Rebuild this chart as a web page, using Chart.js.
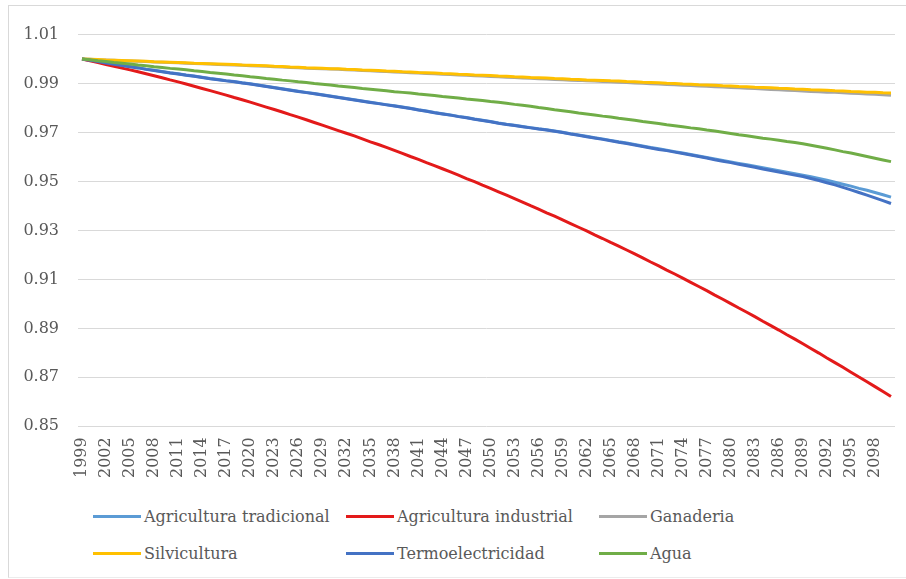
<!DOCTYPE html>
<html>
<head>
<meta charset="utf-8">
<script src="https://cdn.jsdelivr.net/npm/chart.js@4.4.1/dist/chart.umd.min.js"></script>
<style>
  body { margin: 0; background: #fff; width: 906px; height: 579px; overflow: hidden;
         font-family: "DejaVu Serif", serif; }
  #frame { position: absolute; left: 8px; top: 5px; width: 898px; height: 573px; box-sizing: border-box;
           border-top: 1px solid #d9d9d9; border-left: 1px solid #d9d9d9; border-bottom: 1px solid #ececec; }
  #plot { position: absolute; left: 0; top: 0; width: 897px; height: 483px; }
  #legend { position: absolute; left: 84px; top: 492px; display: grid; grid-template-columns: 253px 253px 253px; }
  .item { display: flex; align-items: center; height: 37px; font-size: 16px; color: #595959; white-space: nowrap; }
  .swatch { width: 48px; height: 3px; margin-right: 3px; }
</style>
</head>
<body>
<div id="frame">
  <div id="plot"><canvas id="lineChart"></canvas></div>
  <div id="legend"></div>
</div>
<script>
// años 1999..2100
const years = Array.from({ length: 102 }, (_, i) => String(1999 + i));

const seriesNames = ['Agricultura tradicional', 'Agricultura industrial', 'Ganaderia',
                     'Silvicultura', 'Termoelectricidad', 'Agua'];
const seriesColors = ['#5b9bd5', '#e31a1a', '#a5a5a5', '#ffc000', '#4472c4', '#70ad47'];

const agriTradicional = [
  1.0000,0.9995,0.9990,0.9985,0.9980,0.9975,0.9970,0.9965,0.9959,0.9954,
  0.9949,0.9944,0.9940,0.9935,0.9931,0.9926,0.9921,0.9917,0.9912,0.9908,
  0.9903,0.9899,0.9894,0.9889,0.9884,0.9879,0.9874,0.9869,0.9864,0.9859,
  0.9854,0.9849,0.9844,0.9839,0.9834,0.9829,0.9824,0.9819,0.9814,0.9809,
  0.9804,0.9799,0.9793,0.9788,0.9782,0.9777,0.9772,0.9766,0.9761,0.9755,
  0.9750,0.9745,0.9739,0.9734,0.9730,0.9725,0.9720,0.9715,0.9711,0.9706,
  0.9701,0.9695,0.9690,0.9685,0.9679,0.9674,0.9668,0.9662,0.9657,0.9651,
  0.9645,0.9639,0.9634,0.9628,0.9622,0.9616,0.9610,0.9604,0.9598,0.9592,
  0.9586,0.9580,0.9574,0.9568,0.9562,0.9556,0.9550,0.9544,0.9538,0.9532,
  0.9526,0.9519,0.9512,0.9505,0.9497,0.9489,0.9481,0.9472,0.9464,0.9455,
  0.9446,0.9436];

const agriIndustrial = [
  1.0000,0.9993,0.9986,0.9978,0.9971,0.9963,0.9956,0.9948,0.9940,0.9932,
  0.9924,0.9915,0.9907,0.9898,0.9889,0.9880,0.9871,0.9862,0.9853,0.9843,
  0.9834,0.9824,0.9814,0.9804,0.9794,0.9784,0.9773,0.9763,0.9752,0.9741,
  0.9730,0.9719,0.9708,0.9697,0.9686,0.9674,0.9662,0.9651,0.9639,0.9627,
  0.9615,0.9602,0.9590,0.9577,0.9565,0.9552,0.9539,0.9526,0.9512,0.9499,
  0.9485,0.9472,0.9458,0.9444,0.9430,0.9416,0.9401,0.9387,0.9372,0.9358,
  0.9343,0.9328,0.9313,0.9298,0.9282,0.9267,0.9251,0.9236,0.9220,0.9204,
  0.9188,0.9171,0.9155,0.9138,0.9122,0.9105,0.9088,0.9071,0.9054,0.9036,
  0.9019,0.9001,0.8983,0.8966,0.8948,0.8929,0.8911,0.8893,0.8874,0.8856,
  0.8837,0.8818,0.8799,0.8779,0.8760,0.8741,0.8721,0.8701,0.8682,0.8662,
  0.8642,0.8622];

const ganaderia = [
  1.0000,0.9999,0.9997,0.9996,0.9995,0.9993,0.9992,0.9991,0.9990,0.9988,
  0.9987,0.9986,0.9985,0.9983,0.9982,0.9981,0.9980,0.9978,0.9977,0.9976,
  0.9975,0.9973,0.9972,0.9971,0.9969,0.9968,0.9966,0.9965,0.9963,0.9962,
  0.9960,0.9959,0.9958,0.9956,0.9955,0.9953,0.9952,0.9950,0.9949,0.9947,
  0.9946,0.9944,0.9943,0.9941,0.9940,0.9938,0.9937,0.9935,0.9934,0.9932,
  0.9931,0.9929,0.9928,0.9926,0.9925,0.9923,0.9922,0.9920,0.9919,0.9917,
  0.9916,0.9914,0.9913,0.9911,0.9910,0.9908,0.9907,0.9905,0.9904,0.9902,
  0.9901,0.9899,0.9898,0.9896,0.9895,0.9893,0.9892,0.9890,0.9889,0.9887,
  0.9886,0.9884,0.9883,0.9881,0.9880,0.9878,0.9876,0.9875,0.9873,0.9872,
  0.9870,0.9868,0.9867,0.9865,0.9864,0.9862,0.9860,0.9859,0.9857,0.9856,
  0.9854,0.9852];

const silvicultura = [
  1.0000,0.9999,0.9998,0.9996,0.9995,0.9994,0.9993,0.9992,0.9991,0.9989,
  0.9988,0.9987,0.9986,0.9985,0.9983,0.9982,0.9981,0.9980,0.9979,0.9978,
  0.9976,0.9975,0.9974,0.9973,0.9971,0.9970,0.9968,0.9967,0.9965,0.9964,
  0.9963,0.9961,0.9960,0.9958,0.9957,0.9955,0.9954,0.9953,0.9951,0.9950,
  0.9948,0.9947,0.9945,0.9944,0.9943,0.9941,0.9940,0.9938,0.9937,0.9935,
  0.9934,0.9933,0.9931,0.9930,0.9928,0.9927,0.9925,0.9924,0.9923,0.9921,
  0.9920,0.9918,0.9917,0.9915,0.9914,0.9913,0.9911,0.9910,0.9908,0.9907,
  0.9905,0.9904,0.9903,0.9901,0.9900,0.9898,0.9897,0.9895,0.9894,0.9893,
  0.9891,0.9890,0.9888,0.9887,0.9885,0.9884,0.9883,0.9881,0.9880,0.9878,
  0.9877,0.9875,0.9874,0.9873,0.9871,0.9870,0.9868,0.9867,0.9865,0.9864,
  0.9862,0.9861];

const termoelectricidad = [
  1.0000,0.9995,0.9990,0.9984,0.9979,0.9974,0.9969,0.9964,0.9958,0.9953,
  0.9948,0.9943,0.9939,0.9934,0.9930,0.9925,0.9920,0.9916,0.9911,0.9907,
  0.9902,0.9898,0.9893,0.9888,0.9883,0.9878,0.9873,0.9868,0.9863,0.9858,
  0.9853,0.9848,0.9843,0.9838,0.9833,0.9828,0.9823,0.9818,0.9813,0.9808,
  0.9803,0.9798,0.9792,0.9787,0.9781,0.9776,0.9771,0.9765,0.9760,0.9754,
  0.9749,0.9744,0.9738,0.9733,0.9729,0.9724,0.9719,0.9714,0.9710,0.9705,
  0.9700,0.9694,0.9689,0.9683,0.9678,0.9672,0.9666,0.9660,0.9655,0.9649,
  0.9643,0.9637,0.9631,0.9626,0.9620,0.9614,0.9608,0.9602,0.9596,0.9589,
  0.9583,0.9577,0.9570,0.9564,0.9558,0.9551,0.9545,0.9539,0.9532,0.9526,
  0.9520,0.9512,0.9504,0.9495,0.9486,0.9476,0.9466,0.9455,0.9444,0.9433,
  0.9422,0.9410];

const agua = [
  1.0000,0.9997,0.9993,0.9990,0.9986,0.9983,0.9980,0.9976,0.9973,0.9969,
  0.9966,0.9962,0.9959,0.9956,0.9952,0.9949,0.9945,0.9942,0.9939,0.9935,
  0.9932,0.9928,0.9925,0.9921,0.9918,0.9914,0.9911,0.9907,0.9904,0.9900,
  0.9897,0.9894,0.9890,0.9887,0.9884,0.9880,0.9877,0.9874,0.9871,0.9867,
  0.9864,0.9861,0.9857,0.9854,0.9851,0.9847,0.9844,0.9841,0.9837,0.9834,
  0.9831,0.9827,0.9824,0.9820,0.9815,0.9811,0.9807,0.9802,0.9798,0.9793,
  0.9789,0.9785,0.9780,0.9776,0.9772,0.9767,0.9763,0.9758,0.9754,0.9750,
  0.9745,0.9741,0.9737,0.9732,0.9728,0.9724,0.9719,0.9715,0.9710,0.9706,
  0.9701,0.9696,0.9691,0.9687,0.9682,0.9677,0.9673,0.9668,0.9663,0.9659,
  0.9654,0.9648,0.9642,0.9636,0.9629,0.9622,0.9616,0.9609,0.9602,0.9595,
  0.9588,0.9581];

const yMin = 0.85;
const yMax = 1.01;
const yStep = 0.02;

const seriesData = [agriTradicional, agriIndustrial, ganaderia, silvicultura, termoelectricidad, agua];
const textColor = '#595959';
const tickFont = { family: "'DejaVu Serif', serif", size: 16 };

// later series are drawn over earlier ones (lower order = on top)
const datasets = seriesData.map((values, i) => ({
  label: seriesNames[i],
  data: values,
  borderColor: seriesColors[i],
  backgroundColor: seriesColors[i],
  borderWidth: 3,
  pointRadius: 0,
  fill: false,
  order: seriesData.length - i,
}));

const lineConfig = {
  type: 'line',
  data: { labels: years, datasets: datasets },
  options: {
    responsive: true,
    maintainAspectRatio: false,
    animation: false,
    layout: { padding: { left: 10, right: 11, top: 26, bottom: 0 } },
    plugins: {
      legend: { display: false },
      tooltip: { enabled: false },
    },
    scales: {
      x: {
        offset: true,
        grid: { display: false, drawTicks: false },
        border: { display: false },
        // rotated labels would otherwise push the plot in on both sides
        afterFit: (scale) => { scale.paddingLeft = 0; scale.paddingRight = 0; },
        ticks: {
          autoSkip: false,
          minRotation: 90,
          maxRotation: 90,
          padding: 11,
          color: textColor,
          font: tickFont,
          callback: function (value, index) {
            return index % 3 === 0 ? this.getLabelForValue(value) : '';
          },
        },
      },
      y: {
        min: yMin,
        max: yMax,
        grid: { color: '#d9d9d9', drawTicks: false },
        border: { display: false },
        // fixed axis width so the plot starts in the same place every time
        afterFit: (scale) => { scale.width = 59; },
        ticks: {
          stepSize: yStep,
          padding: 19,
          color: textColor,
          font: tickFont,
          callback: (v) => v.toFixed(2),
        },
      },
    },
  },
};

const chartCtx = document.getElementById('lineChart');
const lineChart = new Chart(chartCtx, lineConfig);

// legend in a 3-column grid, same order as the series
const legendBox = document.getElementById('legend');
lineChart.data.datasets.forEach((ds) => {
  const item = document.createElement('div');
  item.className = 'item';
  const swatch = document.createElement('span');
  swatch.className = 'swatch';
  swatch.style.background = ds.borderColor;
  const text = document.createElement('span');
  text.textContent = ds.label;
  item.appendChild(swatch);
  item.appendChild(text);
  legendBox.appendChild(item);
});
</script>
</body>
</html>
